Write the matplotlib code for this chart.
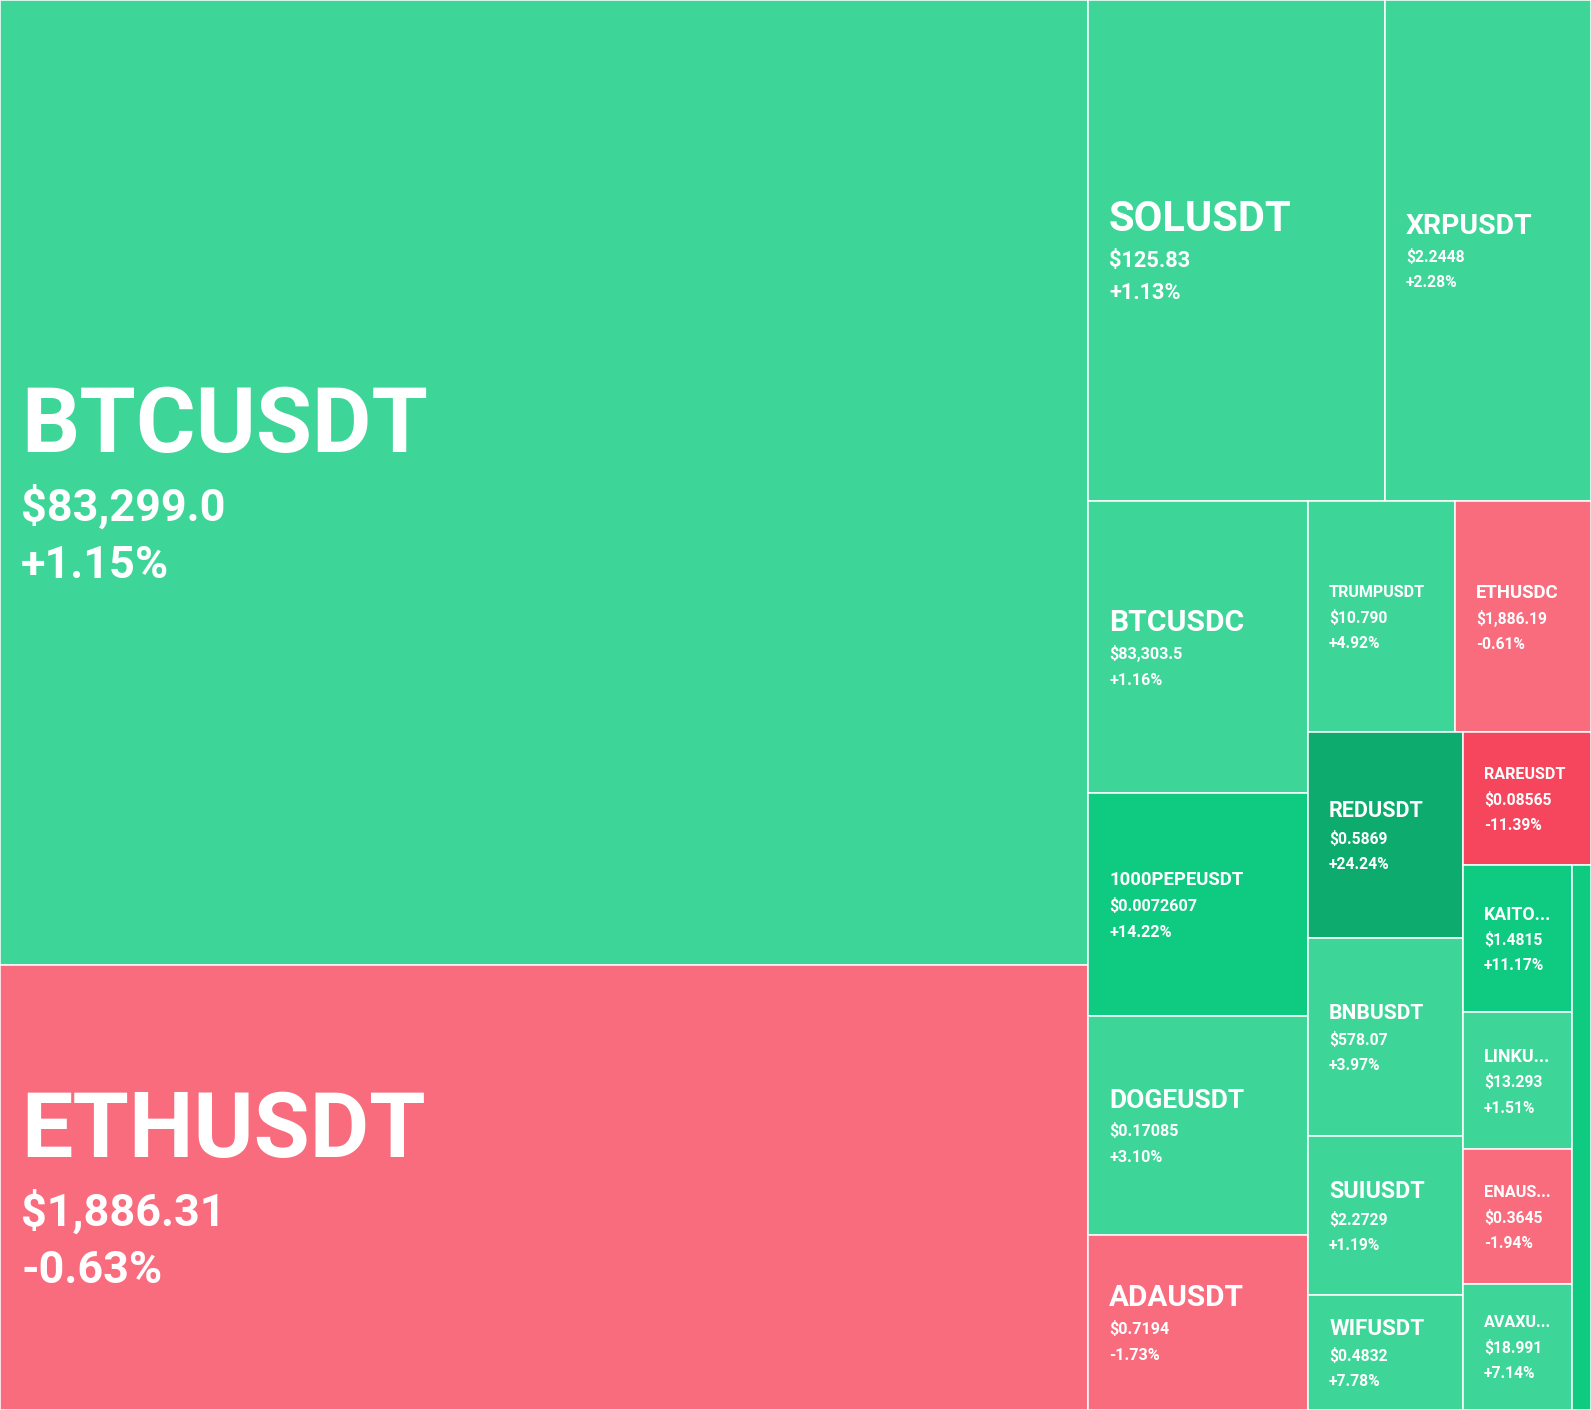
import matplotlib
matplotlib.use("Agg")
import matplotlib.pyplot as plt
from matplotlib.patches import Rectangle

# tiles, biggest first (24h volume decides the area)
symbols = ["BTCUSDT", "ETHUSDT", "SOLUSDT", "XRPUSDT", "BTCUSDC", "1000PEPEUSDT",
           "DOGEUSDT", "ADAUSDT", "TRUMPUSDT", "ETHUSDC", "REDUSDT", "BNBUSDT",
           "SUIUSDT", "WIFUSDT", "RAREUSDT", "KAITOUSDT", "LINKUSDT", "ENAUSDT",
           "AVAXUSDT", "OTHERS"]
# names as shown on the tiles (small tiles are cut short)
labels = ["BTCUSDT", "ETHUSDT", "SOLUSDT", "XRPUSDT", "BTCUSDC", "1000PEPEUSDT",
          "DOGEUSDT", "ADAUSDT", "TRUMPUSDT", "ETHUSDC", "REDUSDT", "BNBUSDT",
          "SUIUSDT", "WIFUSDT", "RAREUSDT", "KAITO...", "LINKU...", "ENAUS...",
          "AVAXU...", ""]
prices = ["$83,299.0", "$1,886.31", "$125.83", "$2.2448", "$83,303.5", "$0.0072607",
          "$0.17085", "$0.7194", "$10.790", "$1,886.19", "$0.5869", "$578.07",
          "$2.2729", "$0.4832", "$0.08565", "$1.4815", "$13.293", "$0.3645",
          "$18.991", ""]
changes = [1.15, -0.63, 1.13, 2.28, 1.16, 14.22, 3.10, -1.73, 4.92, -0.61, 24.24,
           3.97, 1.19, 7.78, -11.39, 11.17, 1.51, -1.94, 7.14, 12.0]
volumes = [10499, 4842, 1488, 1032, 642, 491, 482, 385, 340, 314, 319, 307, 246,
           178, 170, 160, 149, 147, 137, 104]

# how the tiles are packed: ("v", n) = n tiles stacked in a column on the left,
# ("h", n) = n tiles side by side in a row on top of what is left
groups = [("v", 2), ("h", 2), ("v", 4), ("h", 2), ("v", 4), ("h", 1), ("v", 4), ("h", 1)]

W, H = 1591, 1410


def color_for(ch):
    if ch >= 20:
        return "#0DAB6E"
    if ch >= 10:
        return "#0ECB81"
    if ch >= 0:
        return "#3ED598"
    if ch > -10:
        return "#F86C7E"
    return "#F6465D"


def layout(vals, groups, x, y, w, h):
    rects = []
    i = 0
    rest = float(sum(vals))
    for kind, n in groups:
        part = vals[i:i + n]
        s = float(sum(part))
        if kind == "v":
            cw = w * s / rest
            yy = y
            for v in part:
                rh = h * v / s
                rects.append((x, yy, cw, rh))
                yy += rh
            x += cw
            w -= cw
        else:
            rh = h * s / rest
            xx = x
            for v in part:
                cw = w * v / s
                rects.append((xx, y, cw, rh))
                xx += cw
            y += rh
            h -= rh
        rest -= s
        i += n
    return rects


rects = layout(volumes, groups, 0, 0, W, H)

fig = plt.figure(figsize=(W / 100, H / 100), dpi=100)
ax = fig.add_axes([0, 0, 1, 1])
ax.set_xlim(0, W)
ax.set_ylim(H, 0)
ax.axis("off")

renderer = fig.canvas.get_renderer()
CAP = 0.711  # Roboto cap height / em
FONT = "Roboto"

for (x, y, w, h), lab, pr, ch in zip(rects, labels, prices, changes):
    ax.add_patch(Rectangle((x, y), w, h, facecolor=color_for(ch),
                           edgecolor="white", linewidth=1.1))
    if w < 40 or not lab:
        continue

    # title size: fit about 60% of the tile width, within limits
    probe = ax.text(0, 0, lab, fontsize=100, fontweight="bold", family=FONT)
    pw = probe.get_window_extent(renderer).width
    probe.remove()
    fs_t = 100 * 0.615 * w / pw
    fs_t = max(11.6, min(fs_t, 65.8))
    ct = fs_t / 0.72 * CAP

    cb = max(11.1, min(0.052 * w, 32))
    fs_b = cb / CAP * 0.72

    g1 = 0.25 * ct + 0.4 * cb + 7
    g2 = 0.55 * cb + 8
    block = ct + g1 + cb + g2 + cb
    b1 = y + h / 2 - block / 2 + ct
    b2 = b1 + g1 + cb
    b3 = b2 + g2 + cb

    tx = x + 21
    ax.text(tx, b1, lab, fontsize=fs_t, fontweight="bold", family=FONT,
            color="white", va="baseline", ha="left")
    ax.text(tx, b2, pr, fontsize=fs_b, fontweight="bold", family=FONT,
            color="white", va="baseline", ha="left")
    ax.text(tx, b3, f"{ch:+.2f}%", fontsize=fs_b, fontweight="bold", family=FONT,
            color="white", va="baseline", ha="left")

fig.savefig("out.png", dpi=100)
